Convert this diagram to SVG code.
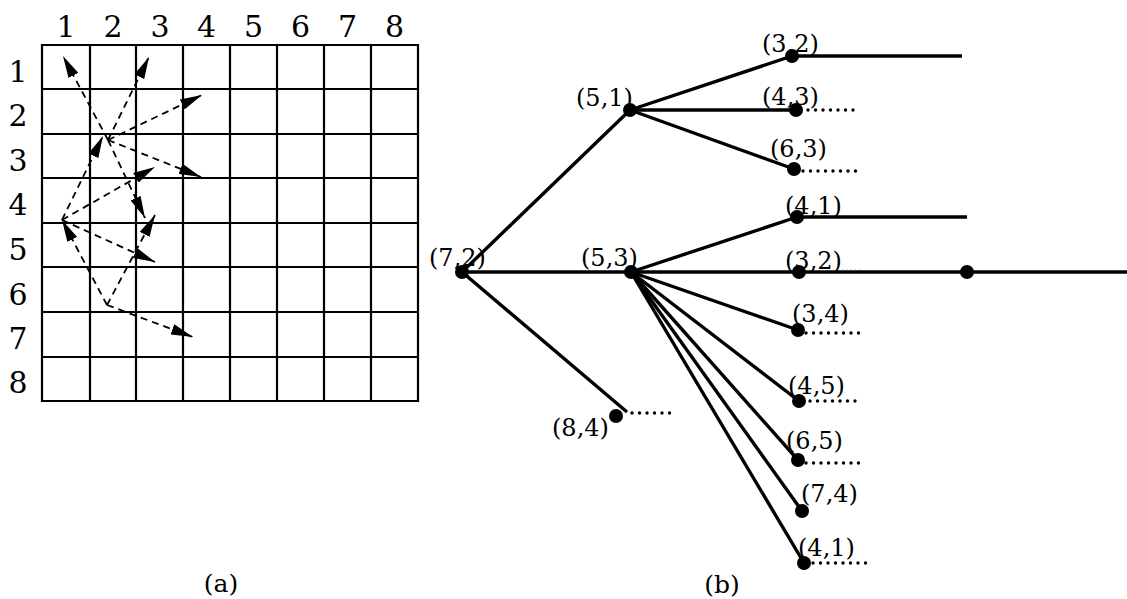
<svg xmlns="http://www.w3.org/2000/svg" width="1127" height="599" viewBox="0 0 1127 599">
<style>
.num{font-family:"DejaVu Serif","Liberation Serif",serif;font-size:30px;fill:#000;text-anchor:middle}
.lbl{font-family:"DejaVu Serif","Liberation Serif",serif;font-size:24px;fill:#000}
.cap{font-family:"DejaVu Serif","Liberation Serif",serif;font-size:25px;fill:#000;text-anchor:middle}
.grid line{stroke:#000;stroke-width:2.2}
.arr{stroke:#000;stroke-width:1.8;stroke-dasharray:7 5;fill:none;marker-end:url(#ah)}
.edge{stroke:#000;stroke-width:3.4;fill:none}
.dots{stroke:#000;stroke-width:3.4;stroke-dasharray:0 7.5;stroke-linecap:round;fill:none}
.node{fill:#000}
</style>
<defs>
<marker id="ah" markerUnits="userSpaceOnUse" markerWidth="22" markerHeight="11" refX="22" refY="5.5" orient="auto">
<path d="M0,0 L22,5.5 L0,11 Z" fill="#000"/>
</marker>
</defs>
<rect width="1127" height="599" fill="#fff"/>
<g id="board">
<g class="grid">
<line x1="42" y1="44" x2="42" y2="402"/><line x1="90" y1="44" x2="90" y2="402"/><line x1="136" y1="44" x2="136" y2="402"/><line x1="183" y1="44" x2="183" y2="402"/><line x1="230" y1="44" x2="230" y2="402"/><line x1="277" y1="44" x2="277" y2="402"/><line x1="324" y1="44" x2="324" y2="402"/><line x1="371" y1="44" x2="371" y2="402"/><line x1="418" y1="44" x2="418" y2="402"/>
<line x1="41" y1="45" x2="419" y2="45"/><line x1="41" y1="89" x2="419" y2="89"/><line x1="41" y1="134" x2="419" y2="134"/><line x1="41" y1="178" x2="419" y2="178"/><line x1="41" y1="223" x2="419" y2="223"/><line x1="41" y1="267" x2="419" y2="267"/><line x1="41" y1="312" x2="419" y2="312"/><line x1="41" y1="357" x2="419" y2="357"/><line x1="41" y1="401" x2="419" y2="401"/>
</g>
<g id="col-labels">
<text class="num" x="66" y="37">1</text><text class="num" x="113" y="37">2</text><text class="num" x="160" y="37">3</text><text class="num" x="206.5" y="37">4</text><text class="num" x="253.5" y="37">5</text><text class="num" x="300.5" y="37">6</text><text class="num" x="347.5" y="37">7</text><text class="num" x="394.5" y="37">8</text>
</g>
<g id="row-labels">
<text class="num" x="18" y="82">1</text><text class="num" x="18" y="126">2</text><text class="num" x="18" y="171">3</text><text class="num" x="18" y="215">4</text><text class="num" x="18" y="260">5</text><text class="num" x="18" y="305">6</text><text class="num" x="18" y="349">7</text><text class="num" x="18" y="393">8</text>
</g>
<g id="moves">
<line class="arr" x1="107" y1="305" x2="193" y2="337"/>
<line class="arr" x1="107" y1="305" x2="62" y2="220"/>
<line class="arr" x1="107" y1="305" x2="155" y2="215"/>
<line class="arr" x1="62" y1="220" x2="155" y2="262"/>
<line class="arr" x1="62" y1="220" x2="155" y2="167"/>
<line class="arr" x1="62" y1="220" x2="103" y2="136"/>
<line class="arr" x1="108" y1="140" x2="63" y2="56"/>
<line class="arr" x1="108" y1="140" x2="149" y2="57"/>
<line class="arr" x1="108" y1="140" x2="202" y2="95"/>
<line class="arr" x1="108" y1="140" x2="201" y2="177"/>
<line class="arr" x1="108" y1="140" x2="145" y2="218"/>
</g>
<text id="cap-a" class="cap" x="221" y="592">(a)</text>
</g>
<g id="connectors">
<line class="edge" x1="462" y1="272" x2="630" y2="110"/>
<line class="edge" x1="462" y1="272" x2="1127" y2="272"/>
<line class="edge" x1="462" y1="272" x2="627" y2="412"/>
<line class="edge" x1="630" y1="110" x2="792" y2="56"/>
<line class="edge" x1="630" y1="110" x2="796" y2="110"/>
<line class="edge" x1="630" y1="110" x2="794" y2="169"/>
<line class="edge" x1="792" y1="56" x2="962" y2="56"/>
<line class="edge" x1="631" y1="272" x2="797" y2="217"/>
<line class="edge" x1="797" y1="217" x2="967" y2="217"/>
<line class="edge" x1="631" y1="272" x2="798" y2="330"/>
<line class="edge" x1="631" y1="272" x2="799" y2="401"/>
<line class="edge" x1="631" y1="272" x2="798" y2="460"/>
<line class="edge" x1="631" y1="272" x2="802" y2="511"/>
<line class="edge" x1="631" y1="272" x2="804" y2="563"/>
<line class="dots" x1="808" y1="110" x2="858" y2="110"/>
<line class="dots" x1="803" y1="171" x2="861" y2="171"/>
<line class="dots" x1="806" y1="333" x2="864" y2="333"/>
<line class="dots" x1="810" y1="401" x2="862" y2="401"/>
<line class="dots" x1="806" y1="463" x2="864" y2="463"/>
<line class="dots" x1="813" y1="563" x2="866" y2="563"/>
<line class="dots" x1="632" y1="413" x2="677" y2="413"/>
<line x1="843" y1="270" x2="862" y2="270" stroke="#777" stroke-width="1" stroke-dasharray="1 3"/>
</g>
<g id="n72"><circle class="node" cx="462" cy="272" r="7"/><text class="lbl" x="429" y="266">(7,2)</text></g>
<g id="n51"><circle class="node" cx="630" cy="110" r="7"/><text class="lbl" x="576" y="106">(5,1)</text></g>
<g id="n53"><circle class="node" cx="631" cy="272" r="7"/><text class="lbl" x="581" y="266">(5,3)</text></g>
<g id="n84"><circle class="node" cx="616" cy="416" r="7"/><text class="lbl" x="552" y="436">(8,4)</text></g>
<g id="n32a"><circle class="node" cx="792" cy="56" r="7"/><text class="lbl" x="762" y="52">(3,2)</text></g>
<g id="n43"><circle class="node" cx="796" cy="110" r="7"/><text class="lbl" x="762" y="105">(4,3)</text></g>
<g id="n63"><circle class="node" cx="794" cy="169" r="7"/><text class="lbl" x="770" y="157">(6,3)</text></g>
<g id="n41a"><circle class="node" cx="797" cy="217" r="7"/><text class="lbl" x="785" y="214">(4,1)</text></g>
<g id="n32b"><circle class="node" cx="799" cy="272" r="7"/><text class="lbl" x="785" y="269">(3,2)</text></g>
<g id="nend"><circle class="node" cx="967" cy="272" r="7"/></g>
<g id="n34"><circle class="node" cx="798" cy="330" r="7"/><text class="lbl" x="792" y="322">(3,4)</text></g>
<g id="n45"><circle class="node" cx="799" cy="401" r="7"/><text class="lbl" x="788" y="394">(4,5)</text></g>
<g id="n65"><circle class="node" cx="798" cy="460" r="7"/><text class="lbl" x="786" y="449">(6,5)</text></g>
<g id="n74"><circle class="node" cx="802" cy="511" r="7"/><text class="lbl" x="801" y="502">(7,4)</text></g>
<g id="n41b"><circle class="node" cx="804" cy="563" r="7"/><text class="lbl" x="798" y="556">(4,1)</text></g>
<text id="cap-b" class="cap" x="722" y="593">(b)</text>
</svg>
